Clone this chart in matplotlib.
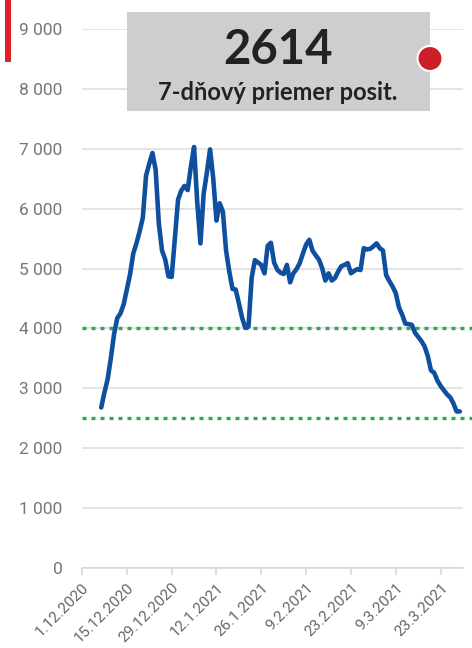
import matplotlib.pyplot as plt
import matplotlib.transforms as mtransforms
from matplotlib.patches import Rectangle, Circle
import pandas as pd

# 7-day average of positive tests, daily from 7.12.2020
start_date = "2020-12-07"
avg7 = [
    2680, 2930, 3150, 3500, 3900, 4170, 4250, 4400, 4650, 4900,
    5250, 5420, 5620, 5850, 6550, 6750, 6930, 6650, 5750, 5300,
    5150, 4870, 4860, 5500, 6150, 6300, 6380, 6310, 6700, 7030,
    6100, 5420, 6250, 6600, 6990, 6500, 5800, 6090, 5950, 5300,
    4950, 4660, 4650, 4420, 4180, 4010, 4030, 4850, 5140, 5100,
    5060, 4920, 5380, 5430, 5100, 4980, 4930, 4910, 5060, 4770,
    4920, 4990, 5090, 5250, 5400, 5480, 5300, 5220, 5150, 5010,
    4800, 4920, 4800, 4840, 4950, 5040, 5060, 5090, 4920, 4960,
    4990, 4975, 5340, 5320, 5330, 5370, 5420, 5340, 5300, 4890,
    4790, 4700, 4590, 4350, 4230, 4080, 4073, 4060, 3930, 3860,
    3790, 3700, 3540, 3300, 3260, 3130, 3040, 2970, 2900, 2850,
    2750, 2614, 2614,
]
ref_levels = [4000, 2500]
tick_dates = ["2020-12-01", "2020-12-15", "2020-12-29", "2021-01-12", "2021-01-26",
              "2021-02-09", "2021-02-23", "2021-03-09", "2021-03-23"]
y_ticks = [0, 1000, 2000, 3000, 4000, 5000, 6000, 7000, 8000, 9000]
headline = "2614"
subtitle = "7-dňový priemer posit."

plt.rcParams['font.family'] = ['Roboto', 'DejaVu Sans']

dates = pd.date_range(start_date, periods=len(avg7), freq="D")
ticks = pd.to_datetime(tick_dates)
x0 = pd.Timestamp("2020-12-01")

fig = plt.figure(figsize=(4.72, 6.48), dpi=100)
ax = fig.add_axes([82 / 472, 1 - 568 / 648, 381 / 472, 539 / 648])

ax.plot(dates, avg7, color="#0f4fa0", lw=3.3, solid_joinstyle="round",
        solid_capstyle="round", zorder=4, clip_on=False)

# dotted guides run a little past the plot area
trans = mtransforms.blended_transform_factory(ax.transAxes, ax.transData)
for lvl in ref_levels:
    ax.plot([0, 390 / 381], [lvl, lvl], transform=trans, color="#2ea85a",
            lw=2.4, ls=(0, (1.2, 1.5)), dash_capstyle="butt", clip_on=False, zorder=3)

ax.set_xlim(x0, x0 + pd.Timedelta(days=119))
ax.set_ylim(0, 9000)
ax.set_yticks(y_ticks)
ax.set_yticklabels([f"{v:,}".replace(",", " ") for v in y_ticks])
ax.set_xticks(ticks)
ax.set_xticklabels([f"{d.day}.{d.month}.{d.year}" for d in ticks],
                   rotation=45, ha="right", rotation_mode="anchor")

ax.grid(axis="y", color="#dddddd", lw=1.1)
ax.set_axisbelow(True)
for side in ["top", "right", "left"]:
    ax.spines[side].set_visible(False)
ax.spines["bottom"].set_color("#d6d6d6")
ax.spines["bottom"].set_linewidth(1.1)
ax.tick_params(axis="y", length=0, pad=14, labelsize=12.5, labelcolor="#777777")
ax.tick_params(axis="x", length=5, width=1.1, color="#d6d6d6", pad=4,
               labelsize=11, labelcolor="#666666")

# header box with the latest value
fig.add_artist(Rectangle((127 / 472, 1 - 110.5 / 648), 303 / 472, 98.5 / 648,
                         transform=fig.transFigure, facecolor="#cfcdce",
                         edgecolor="none", zorder=5))
fig.text(278 / 472, 1 - 50 / 648, headline, ha="center", va="center",
         fontsize=34, fontweight="bold", family=["Lato", "DejaVu Sans"],
         color="#222222", zorder=6)
fig.text(278 / 472, 1 - 92 / 648, subtitle, ha="center", va="center",
         fontsize=17, fontweight="bold", family=["Lato", "DejaVu Sans"],
         color="#222222", zorder=6)

fig.add_artist(Circle((4.30, (648 - 58.5) / 100), 0.125,
                      transform=fig.dpi_scale_trans, facecolor="#cc1f27",
                      edgecolor="white", lw=1.5, zorder=7))
fig.add_artist(Rectangle((5 / 472, 1 - 62 / 648), 6 / 472, 62 / 648,
                         transform=fig.transFigure, facecolor="#e3202a",
                         edgecolor="none"))

fig.savefig("out.png", dpi=100)
